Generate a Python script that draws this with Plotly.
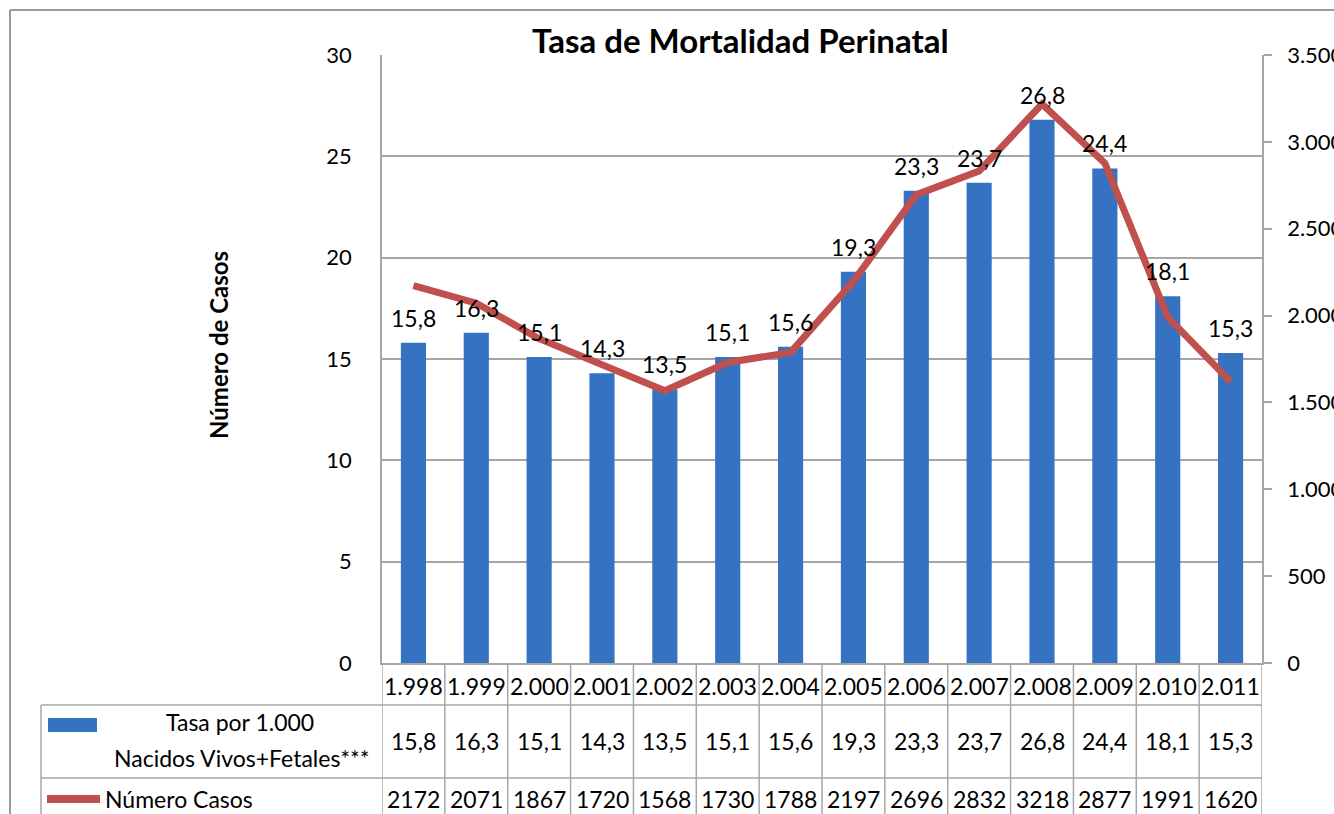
import plotly.graph_objects as go

# ---- data ----
years = ["1.998", "1.999", "2.000", "2.001", "2.002", "2.003", "2.004",
         "2.005", "2.006", "2.007", "2.008", "2.009", "2.010", "2.011"]
tasa = [15.8, 16.3, 15.1, 14.3, 13.5, 15.1, 15.6, 19.3, 23.3, 23.7, 26.8, 24.4, 18.1, 15.3]
casos = [2172, 2071, 1867, 1720, 1568, 1730, 1788, 2197, 2696, 2832, 3218, 2877, 1991, 1620]
left_ticks = [0, 5, 10, 15, 20, 25, 30]
right_ticks = [0, 500, 1000, 1500, 2000, 2500, 3000, 3500]

W, H = 1334, 814
L, R, T, B = 382, 1262, 55, 663
FONT = "Lato"
GRAY = "#a6a6a6"
BLUE = "#3672c2"
RED = "#c0504d"
n = len(years)
xs = list(range(n))


def px(x):
    return (x - L) / (R - L)


def py(y):
    return (B - y) / (B - T)


def fmt(v):
    return f"{v:.1f}".replace(".", ",")


fig = go.Figure()
fig.add_trace(go.Bar(
    x=xs, y=tasa, width=0.4, name="Tasa por 1.000 Nacidos Vivos+Fetales***",
    marker=dict(color=BLUE, line=dict(width=0)),
))
fig.add_trace(go.Scatter(
    x=xs, y=casos, yaxis="y2", mode="lines", name="Número Casos",
    line=dict(color=RED, width=7),
))

shapes = []
ann = []

# data labels above bars
for i, v in enumerate(tasa):
    ann.append(dict(x=i, y=v, xref="x", yref="y", text=fmt(v), showarrow=False,
                    xanchor="center", yanchor="middle", yshift=25,
                    font=dict(family=FONT, size=23, color="black")))

# table grid
line = dict(color=GRAY, width=1.5)
for yy in [705, 778]:
    shapes.append(dict(type="line", xref="paper", yref="paper", x0=px(41), x1=px(R),
                       y0=py(yy), y1=py(yy), line=line))
shapes.append(dict(type="line", xref="paper", yref="paper", x0=px(41), x1=px(41),
                   y0=py(705), y1=py(H + 5), line=line))
for i in range(n + 1):
    shapes.append(dict(type="line", xref="x", yref="paper", x0=i - 0.5, x1=i - 0.5,
                       y0=0, y1=py(H + 5), line=line))
# outer frame
frame = dict(color="#9a9a9a", width=2)
shapes.append(dict(type="line", xref="paper", yref="paper", x0=px(10), x1=px(10),
                   y0=py(10), y1=py(H + 5), line=frame))
shapes.append(dict(type="line", xref="paper", yref="paper", x0=px(10), x1=px(W + 5),
                   y0=py(10), y1=py(10), line=frame))

# legend keys
shapes.append(dict(type="rect", xref="paper", yref="paper", x0=px(48), x1=px(97),
                   y0=py(732), y1=py(718), fillcolor=BLUE, line=dict(width=0)))
shapes.append(dict(type="line", xref="paper", yref="paper", x0=px(47), x1=px(100),
                   y0=py(799), y1=py(799), line=dict(color=RED, width=8)))

tf = dict(family=FONT, size=23, color="black")
for i in range(n):
    for yy, txt in [(686, years[i]), (741, fmt(tasa[i])), (799, str(casos[i]))]:
        ann.append(dict(x=i, y=py(yy), xref="x", yref="paper", text=txt,
                        showarrow=False, xanchor="center", yanchor="middle", font=tf))

ann.append(dict(x=px(240), y=py(722), xref="paper", yref="paper", text="Tasa por 1.000",
                showarrow=False, xanchor="center", yanchor="middle", font=tf))
ann.append(dict(x=px(241), y=py(758), xref="paper", yref="paper",
                text="Nacidos Vivos+Fetales***", showarrow=False,
                xanchor="center", yanchor="middle", font=tf))
ann.append(dict(x=px(103), y=py(799), xref="paper", yref="paper", text="Número Casos",
                showarrow=False, xanchor="left", yanchor="middle", font=tf))

# title and axis title
ann.append(dict(x=px(740), y=py(40), xref="paper", yref="paper",
                text="<b>Tasa de Mortalidad Perinatal</b>", showarrow=False,
                xanchor="center", yanchor="middle",
                font=dict(family=FONT, size=33, color="black")))
ann.append(dict(x=px(218), y=py(345), xref="paper", yref="paper",
                text="<b>Número de Casos</b>", showarrow=False, textangle=-90,
                xanchor="center", yanchor="middle",
                font=dict(family=FONT, size=24, color="black")))

fig.update_layout(
    width=W, height=H,
    margin=dict(l=L, r=W - R, t=T, b=H - B, pad=0, autoexpand=False),
    paper_bgcolor="white", plot_bgcolor="white",
    separators=",.",
    showlegend=False,
    font=dict(family=FONT, size=22, color="black"),
    xaxis=dict(range=[-0.5, n - 0.5], showticklabels=False, showgrid=False,
               showline=True, linecolor=GRAY, linewidth=1.5, ticks="",
               zeroline=False, automargin=False),
    yaxis=dict(range=[0, 30], tickvals=left_ticks, showgrid=True, gridcolor=GRAY,
               gridwidth=1.5, showline=True, linecolor=GRAY, linewidth=1.5,
               ticks="", ticklabelstandoff=24, zeroline=False, automargin=False,
               tickfont=dict(family=FONT, size=22)),
    yaxis2=dict(range=[0, 3500], tickvals=right_ticks, tickformat=",.0f",
                overlaying="y", side="right", showgrid=False, showline=True,
                linecolor=GRAY, linewidth=1.5, ticks="outside", ticklen=8,
                tickcolor=GRAY, tickwidth=1.5, ticklabelstandoff=11,
                zeroline=False, automargin=False,
                tickfont=dict(family=FONT, size=22)),
    shapes=shapes,
    annotations=ann,
)

fig.write_html("out.html", config={"displayModeBar": False},
               post_script="document.body.style.margin='0';")
